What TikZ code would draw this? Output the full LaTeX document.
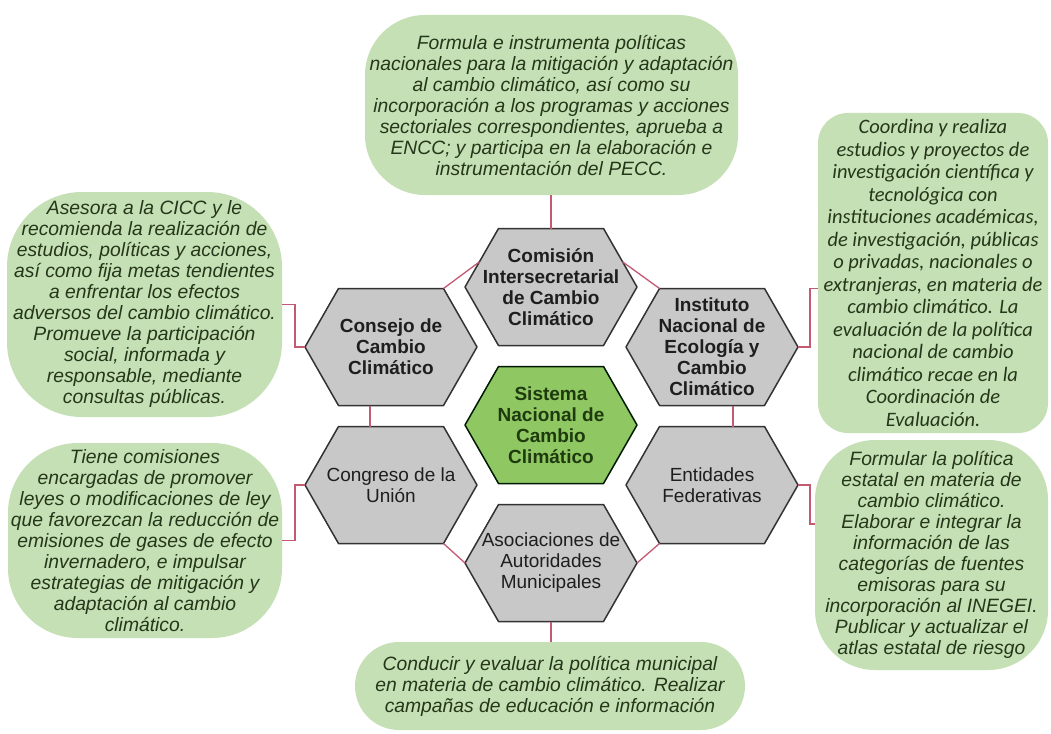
\documentclass[tikz,border=0pt]{standalone}
\usepackage{fontspec}
\setmainfont{Liberation Sans}
\newfontfamily\carl{Carlito}
\usetikzlibrary{calc}
\definecolor{boxg}{HTML}{C5E0B4}
\definecolor{hexg}{HTML}{C8C8C8}
\definecolor{cenG}{HTML}{8FC862}
\definecolor{lnk}{HTML}{C25A72}
\definecolor{btxt}{HTML}{25361A}
\definecolor{htxt}{HTML}{1E1E1E}
\definecolor{ctxt}{HTML}{1F3A0E}
\newcommand{\hexa}[4]{%
  \coordinate (#1) at (#2,#3);
  \coordinate (#1-l) at ($(#1)+(-86,0)$);
  \coordinate (#1-tl) at ($(#1)+(-52.5,-58.5)$);
  \coordinate (#1-tr) at ($(#1)+(52.5,-58.5)$);
  \coordinate (#1-r) at ($(#1)+(86,0)$);
  \coordinate (#1-br) at ($(#1)+(52.5,58.5)$);
  \coordinate (#1-bl) at ($(#1)+(-52.5,58.5)$);
  \coordinate (#1-t) at ($(#1)+(0,-58.5)$);
  \coordinate (#1-b) at ($(#1)+(0,58.5)$);
  \draw[#4] (#1-l) -- (#1-tl) -- (#1-tr) -- (#1-r) -- (#1-br) -- (#1-bl) -- cycle;
}
\tikzset{
  hexshape/.style={fill=hexg, draw=black!80, line width=1.5pt, line join=round},
  censhape/.style={fill=cenG, draw=black!75!green!40!black, line width=1.5pt, line join=round},
  hexbold/.style={align=center, inner sep=0pt, text=htxt, font=\fontsize{19}{21}\selectfont\bfseries},
  hexreg/.style={align=center, inner sep=0pt, text=htxt, font=\fontsize{19}{21}\selectfont},
  boxn/.style={fill=boxg, draw=none, align=center, inner sep=0pt, text=btxt, font=\fontsize{19.3}{21}\selectfont\itshape},
  link/.style={draw=lnk, line width=1.3pt},
}
\begin{document}
\begin{tikzpicture}[x=1pt,y=-1pt]
\useasboundingbox (0,0) rectangle (1051,733);
\fill[white] (0,0) rectangle (1051,733);

% boxes
\node[boxn, minimum width=373pt, minimum height=180pt, rounded corners=60pt] (topbox) at (551.5,105)
 {Formula e instrumenta políticas\\nacionales para la mitigación y adaptación\\al cambio climático, así como su\\incorporación a los programas y acciones\\sectoriales correspondientes, aprueba a\\ENCC; y participa en la elaboración e\\instrumentación del PECC.};
\node[boxn, minimum width=275pt, minimum height=225pt, rounded corners=75pt] (lbox1) at (144.5,304.5)
 {Asesora a la CICC y le\\recomienda la realización de\\estudios, políticas y acciones,\\así como fija metas tendientes\\a enfrentar los efectos\\adversos del cambio climático.\\Promueve la participación\\social, informada y\\responsable, mediante\\consultas públicas.};
\node[boxn, minimum width=274pt, minimum height=195pt, rounded corners=70pt] (lbox2) at (145,540.5)
 {Tiene comisiones\\encargadas de promover\\leyes o modificaciones de ley\\que favorezcan la reducción de\\emisiones de gases de efecto\\invernadero, e impulsar\\estrategias de mitigación y\\adaptación al cambio\\climático.};
\node[boxn, minimum width=230pt, minimum height=320pt, rounded corners=30pt, font=\carl\fontsize{20.5}{22.5}\selectfont\itshape] (rbox1) at (933,273)
 {Coordina y realiza\\estudios y proyectos de\\investigación científica y\\tecnológica con\\instituciones académicas,\\de investigación, públicas\\o privadas, nacionales o\\extranjeras, en materia de\\cambio climático. La\\evaluación de la política\\nacional de cambio\\climático recae en la\\Coordinación de\\Evaluación.};
\node[boxn, minimum width=233pt, minimum height=230pt, rounded corners=60pt] (rbox2) at (931.5,555)
 {Formular la política\\estatal en materia de\\cambio climático.\\Elaborar e integrar la\\información de las\\categorías de fuentes\\emisoras para su\\incorporación al INEGEI.\\Publicar y actualizar el\\atlas estatal de riesgo};
\node[boxn, minimum width=390pt, minimum height=88pt, rounded corners=44pt] (botbox) at (550,686)
 {Conducir y evaluar la política municipal\\en materia de cambio climático. Realizar\\campañas de educación e información};

% hexagons
\hexa{com}{551}{287}{hexshape}
\hexa{cons}{391}{347}{hexshape}
\hexa{inst}{712}{347}{hexshape}
\hexa{sis}{551}{425}{censhape}
\hexa{cong}{391}{485}{hexshape}
\hexa{ent}{712}{485}{hexshape}
\hexa{aso}{551}{563}{hexshape}

\node[hexbold] (comT) at (com) {Comisión\\Intersecretarial\\de Cambio\\Climático};
\node[hexbold] (consT) at (cons) {Consejo de\\Cambio\\Climático};
\node[hexbold] (instT) at (inst) {Instituto\\Nacional de\\Ecología y\\Cambio\\Climático};
\node[hexbold, text=ctxt] (sisT) at (sis) {Sistema\\Nacional de\\Cambio\\Climático};
\node[hexreg] (congT) at (cong) {Congreso de la\\Unión};
\node[hexreg] (entT) at (ent) {Entidades\\Federativas};
\node[hexreg] (asoT) at (aso) {Asociaciones de\\Autoridades\\Municipales};

% connectors
\coordinate (rb2in) at (815,524);
\draw[link] (com-t |- topbox.south) -- (com-t);
\draw[link] (cons-tr) -- ($(com-l)!0.43!(com-tl)$);
\draw[link] ($(com-r)!0.43!(com-tr)$) -- (inst-tl);
\draw[link] ($(cons-bl)!0.3!(cons-br)$) -- ($(cong-tl)!0.3!(cong-tr)$);
\draw[link] ($(inst-bl)!0.7!(inst-br)$) -- ($(ent-tl)!0.7!(ent-tr)$);
\draw[link] (cong-br) -- (aso-l);
\draw[link] (ent-bl) -- (aso-r);
\draw[link] (aso-b) -- (aso-b |- botbox.north);
\draw[link] (cons-l) -- ++(-10,0) |- (lbox1.east);
\draw[link] (cong-l) -- ++(-10,0) |- (lbox2.east);
\draw[link] (inst-r) -- ++(12,0) |- (rbox1.west |- inst-tl);
\draw[link] (ent-r) -- ++(12,0) |- (rb2in);
\end{tikzpicture}
\end{document}
